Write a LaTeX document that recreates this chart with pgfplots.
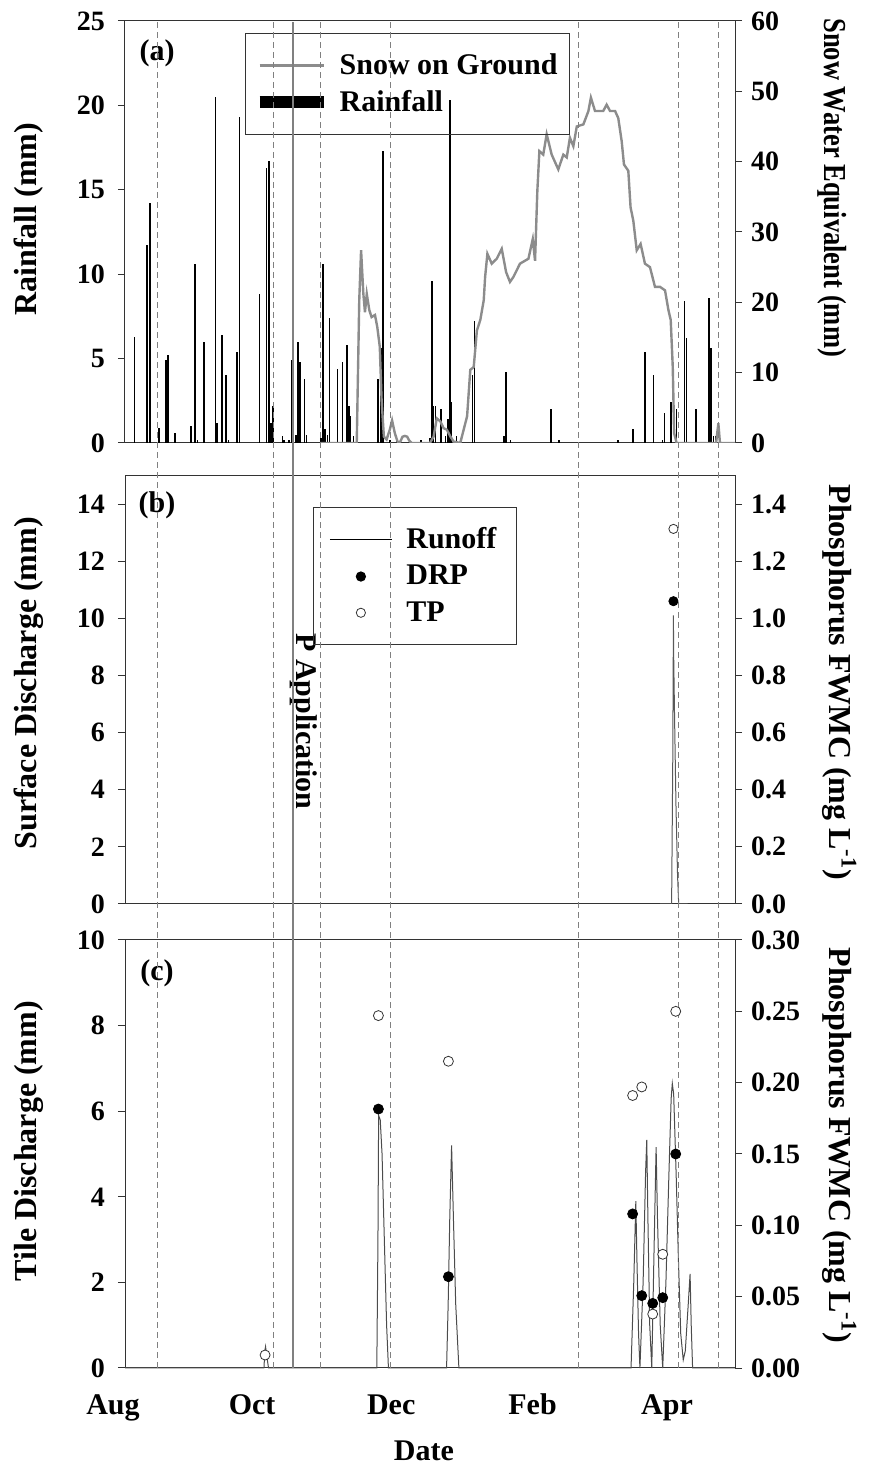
\documentclass[border=0pt]{standalone}
\usepackage{fontspec}
\setmainfont{Liberation Serif}
\usepackage{graphicx}
\usepackage{pgfplots}
\pgfplotsset{compat=1.18}

\newcommand{\tickfont}{\fontsize{14}{16}\selectfont\bfseries}
\newcommand{\txtfont}{\fontsize{15}{18}\selectfont\bfseries}
\newcommand{\labfont}{\fontsize{16}{19}\selectfont\bfseries}

\tikzset{lab/.style={font=\labfont, anchor=center}}

\pgfplotsset{
  common/.style={
    scale only axis, width=305pt, xmin=5.26, xmax=272.8,
    anchor=south west,
    axis line style={black!80, line width=0.5pt},
    tick align=outside, major tick length=3.5pt,
    tick style={black!80, line width=0.5pt},
    xtick=\empty,
    tick label style={font=\tickfont},
    /pgf/number format/assume math mode=true,
  },
  lpanel/.style={common, ytick pos=left,
    yticklabel style={xshift=-3pt}},
  rpanel/.style={common, axis x line=none, axis y line*=right,
    yticklabel style={xshift=1pt}},
}

\begin{document}
\begin{tikzpicture}
\useasboundingbox (0,0) rectangle (435pt,733.5pt);

% ---------- (a) rainfall / snow ----------
\begin{axis}[lpanel, at={(62.5pt,512pt)}, height=211pt,
  ymin=0, ymax=25, ytick={0,5,...,25},
  ylabel={Rainfall (mm)},
  every axis y label/.style={at={(axis description cs:-0.158,0.53)}, rotate=90, lab}]
\addplot[ycomb, black, line width=0.8pt] coordinates {
(9.5,6.3) (15.0,11.7) (16.3,14.2) (20.3,0.9) (23.2,4.9) (24.1,5.2) (27.2,0.6)
(34.2,1.0) (36.0,10.6) (37.0,0.2) (39.9,6.0) (44.9,20.5) (45.6,1.2) (47.8,6.4)
(49.6,4.0) (50.6,0.2) (54.4,5.4) (55.5,19.3) (64.3,8.8) (67.4,16.3) (68.4,16.7)
(69.3,1.2) (70.3,2.2) (74.4,0.4) (75.1,0.2) (77.2,0.2) (78.2,4.9) (80.3,0.5)
(81.1,6.0) (82.0,4.8) (83.9,3.8) (84.8,0.5) (91.2,0.3) (92.0,10.6) (93.0,0.8)
(94.0,0.5) (94.9,7.4) (98.5,4.4) (100.7,4.8) (102.6,5.8) (103.6,2.2) (104.2,1.6)
(105.4,0.4) (116.2,3.8) (117.5,5.6) (118.4,17.3) (121.4,0.2) (124.3,0.2)
(135.0,0.2) (139.0,0.3) (140.0,9.6) (140.6,2.2) (141.4,2.2) (143.9,2.0)
(145.8,0.4) (146.9,1.4) (147.9,20.3) (148.5,2.4) (150.7,0.4) (157.6,4.0)
(158.5,7.2) (171.5,0.4) (172.4,4.2) (174.4,0.2) (192.0,2.0) (195.6,0.2)
(221.6,0.2) (227.8,0.8) (228.2,0.8) (233.2,5.4) (237.0,4.0) (241.0,0.2)
(241.8,1.8) (244.6,2.4) (247.2,2.0) (250.6,8.4) (251.6,6.2) (255.7,2.0)
(261.5,8.6) (262.3,5.6) (263.3,0.4) (264.2,0.4)
};
\node[font=\txtfont] at (axis description cs:0.0525,0.924) {(a)};
\end{axis}

\begin{axis}[rpanel, at={(62.5pt,512pt)}, height=211pt,
  ymin=0, ymax=60, ytick={0,10,...,60},
  ylabel={\scalebox{0.83}[1]{Snow Water Equivalent (mm)}},
  every axis y label/.style={at={(axis description cs:1.159,0.605)}, rotate=-90, lab},
  legend style={at={(axis description cs:0.197,0.9716)}, anchor=north west,
    draw=black!80, line width=0.5pt, fill=none, font=\txtfont,
    inner xsep=4pt, inner ysep=8pt, row sep=2.5pt,
    /tikz/every odd column/.append style={column sep=3pt}},
  legend cell align=left,
  legend image code/.code={\draw[#1] (0pt,0pt) -- (32pt,0pt);}]
\addplot[gray!90, line width=1.2pt] coordinates {
(91,0) (106.9,0) (108,20.3) (108.8,27.4) (109.8,21.2) (110.5,18.6) (111.3,21.2)
(112.4,18.9) (113.4,17.9) (114.9,18.2) (115.9,16.5) (117,13.7) (117.8,6.1)
(118.8,0.9) (120,0.5) (121.4,1.9) (122.4,3.2) (123.6,1.4) (125,0) (126,0.2)
(127,0.9) (128,1.0) (129,0.9) (130,0.3) (131,0) (139,0) (140.6,0.9) (142,3.5)
(143.5,3.1) (145,2.1) (146.4,1.9) (148,0.9) (149.4,0.2) (152.3,0) (153.8,1.9)
(155.3,3.8) (156.7,10.4) (158.2,10.8) (159.6,16) (161.1,17.5) (162.6,20.3)
(163.2,23.6) (164.2,26.9) (166.1,25.5) (168.3,26.2) (170.5,27.6) (172.4,24.3)
(174.1,22.9) (175.6,23.6) (178.5,25.5) (182.2,26.2) (184.1,29.0) (185.1,25.9)
(186.1,35.8) (187,41.5) (188.7,41) (190.2,43.9) (192.4,41) (195.3,38.9)
(197.5,41) (199,40.6) (200.4,43.4) (201.9,42.2) (203.4,45) (206.3,45.3)
(208.5,47.2) (209.6,49.1) (211.4,47.2) (215,47.2) (216.5,48.1) (218,47.2)
(220.2,47.2) (221.6,46.2) (223.1,42.9) (224.1,39.6) (226,38.7) (227,33.5)
(228.2,31.6) (229.7,27.4) (231.4,28.3) (233.3,25.5) (235.5,25) (237.7,22.2)
(239.9,22.2) (242.1,21.7) (243.6,18.9) (244.6,17.5) (245.5,10.8) (246.1,1.4)
(247.2,0) (264.5,0) (265.5,2.8) (266.2,0) (272.8,0)
};
\addlegendentry{Snow on Ground}
\addlegendimage{black, line width=6pt}
\addlegendentry{Rainfall}
\end{axis}

% ---------- (b) surface runoff ----------
\begin{axis}[lpanel, at={(62.5pt,281.5pt)}, height=214.25pt,
  ymin=0, ymax=15, ytick={0,2,...,14},
  ylabel={Surface Discharge (mm)},
  every axis y label/.style={at={(axis description cs:-0.158,0.515)}, rotate=90, lab}]
\addplot[black!65, line width=0.5pt] coordinates {
(240,0) (245.0,0) (245.5,5) (245.8,10.1) (245.85,9.0) (246.3,6.5) (246.9,3.5)
(247.6,1.0) (248.1,0) (252,0)
};
\node[font=\txtfont] at (axis description cs:0.0525,0.931) {(b)};
\node[font=\txtfont, rotate=-90] at (axis cs:83.5,6.39) {P Application};
\end{axis}

\begin{axis}[rpanel, at={(62.5pt,281.5pt)}, height=214.25pt,
  ymin=0, ymax=1.5, ytick={0,0.2,0.4,0.6,0.8,1.0,1.2,1.4},
  yticklabel style={/pgf/number format/.cd, fixed, fixed zerofill, precision=1},
  ylabel={Phosphorus FWMC (mg L\textsuperscript{-1})},
  every axis y label/.style={at={(axis description cs:1.171,0.517)}, rotate=-90, lab},
  legend style={at={(axis description cs:0.308,0.9265)}, anchor=north west,
    draw=black!80, line width=0.5pt, fill=none, font=\txtfont,
    inner xsep=8pt, inner ysep=8pt, row sep=2.8pt,
    /tikz/every odd column/.append style={column sep=5pt}},
  legend cell align=left,
  legend image code/.code={\draw[#1] plot coordinates {(15.5pt,0pt)};}]
\addlegendimage{legend image code/.code={\draw[black, line width=0.5pt] (0pt,0pt) -- (31pt,0pt);}}
\addlegendentry{Runoff}
\addplot[only marks, mark=*, mark size=2.3pt, black]
  coordinates {(245.8,1.06)};
\addlegendentry{DRP}
\addplot[only marks, mark=*, mark size=2.3pt, draw=black!80, fill=white, line width=0.4pt]
  coordinates {(245.8,1.313)};
\addlegendentry{TP}
\end{axis}

% ---------- (c) tile drainage ----------
\begin{axis}[lpanel, at={(62.5pt,49.5pt)}, height=214pt,
  ymin=0, ymax=10, ytick={0,2,...,10},
  ylabel={Tile Discharge (mm)},
  every axis y label/.style={at={(axis description cs:-0.158,0.53)}, rotate=90, lab},
  xlabel={Date},
  every axis x label/.style={at={(axis description cs:0.49,0)}, yshift=-46.5pt,
    anchor=base, font=\txtfont, inner sep=0pt},
  clip=false]
\addplot[black!70, line width=0.5pt] coordinates {
(5.3,0) (66.2,0) (66.6,0.4) (66.9,0.5) (67.4,0.3) (68.2,0)
(115.7,0) (116.2,3.0) (116.5,5.9) (117.2,5.8) (118.0,5.0) (119.0,3.0)
(120.0,1.0) (120.8,0)
(146.3,0) (147.0,1.5) (147.7,3.5) (148.5,5.2) (149.3,3.5) (150.3,1.5) (151.7,0)
(227.2,0) (228.4,2.0) (229.3,3.9) (229.8,2.5) (230.5,0.8) (231.1,0)
(232.5,2.0) (233.6,4.6) (234.1,5.33) (234.6,3.5) (235.4,1.0) (236.3,0)
(237.2,2.5) (238.2,5.16) (238.8,3.5) (240.0,1.0) (241.1,0)
(242.5,2.0) (243.8,4.5) (244.8,6.3) (245.3,6.65) (245.9,6.4) (247.0,4.5)
(248.0,2.5) (249.0,0.8) (250.1,0.19) (251.0,0.4) (252.3,1.5) (253.1,2.2)
(253.6,1.0) (254.2,0) (272.8,0)
};
\node[font=\txtfont] at (axis description cs:0.0525,0.923) {(c)};
\node[font=\txtfont, anchor=base] at (axis cs:0,0) [yshift=-23.5pt] {Aug};
\node[font=\txtfont, anchor=base] at (axis cs:61,0) [yshift=-23.5pt] {Oct};
\node[font=\txtfont, anchor=base] at (axis cs:122,0) [yshift=-23.5pt] {Dec};
\node[font=\txtfont, anchor=base] at (axis cs:184,0) [yshift=-23.5pt] {Feb};
\node[font=\txtfont, anchor=base] at (axis cs:243,0) [yshift=-23.5pt] {Apr};
\end{axis}

\begin{axis}[rpanel, at={(62.5pt,49.5pt)}, height=214pt,
  ymin=0, ymax=0.30, ytick={0,0.05,0.10,0.15,0.20,0.25,0.30},
  yticklabel style={/pgf/number format/.cd, fixed, fixed zerofill, precision=2},
  ylabel={Phosphorus FWMC (mg L\textsuperscript{-1})},
  every axis y label/.style={at={(axis description cs:1.171,0.52)}, rotate=-90, lab},
  clip=false]
\addplot[only marks, mark=*, mark size=2.5pt, black] coordinates {
(116.4,0.1815) (147.1,0.064) (227.9,0.108) (231.9,0.0507) (236.7,0.0453)
(241.1,0.0493) (246.8,0.150)
};
\addplot[only marks, mark=*, mark size=2.5pt, draw=black!80, fill=white, line width=0.4pt] coordinates {
(66.7,0.0091) (116.4,0.247) (147.1,0.215) (227.9,0.191) (231.9,0.197)
(236.7,0.0378) (241.1,0.0797) (246.8,0.250)
};
% reference lines through all three panels
\pgfplotsinvokeforeach{19.3,70.2,91.2,121.9,204,247.8,265.4}{
  \draw[gray, line width=0.5pt, dash pattern=on 3pt off 2pt] (axis cs:#1,0) -- ++(0pt,673.5pt);
}
\draw[gray, line width=0.7pt] (axis cs:78.9,0) -- ++(0pt,673pt);
\end{axis}
\end{tikzpicture}
\end{document}
